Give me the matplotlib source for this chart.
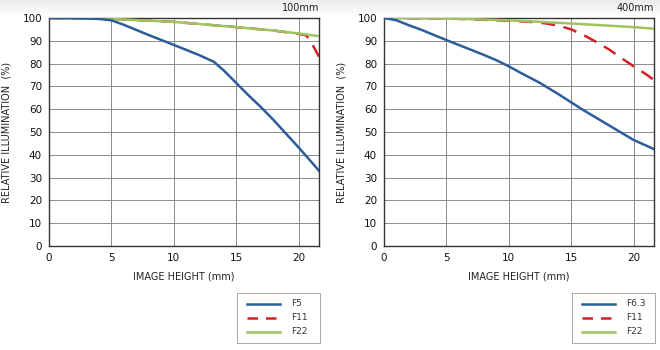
import matplotlib
matplotlib.use("Agg")
import matplotlib.pyplot as plt
import numpy as np

# Left panel (100mm)
l_x_f5 = [0, 2, 4, 5, 6, 8, 10, 12, 13.2, 14, 15, 16, 17, 18, 19, 20, 21, 21.63]
l_y_f5 = [100, 99.9, 99.6, 99.0, 97, 92.5, 88.2, 83.8, 80.8, 77.0, 71.5, 66.0, 60.8, 55.2, 49.2, 43.2, 37, 33]
l_x_f11 = [0, 5, 10, 15, 18, 20, 20.6, 21, 21.63]
l_y_f11 = [100, 99.6, 98.3, 96.0, 94.5, 93.0, 92.4, 89.5, 83]
l_x_f22 = [0, 5, 10, 15, 18, 20, 21.63]
l_y_f22 = [100, 99.6, 98.3, 96.0, 94.5, 93.2, 92.0]

# Right panel (400mm)
r_x_f63 = [0, 1, 2, 3, 5, 7, 8, 9, 10, 11, 12.5, 14, 15, 16, 18, 20, 21.63]
r_y_f63 = [100, 99, 96.8, 94.8, 90.3, 86, 83.8, 81.5, 78.8, 75.8, 71.5, 66.5, 63, 59.5, 53, 46.5, 42.5]
r_x_f11 = [0, 5, 10, 12, 13, 14, 15, 16, 17, 18, 19, 20, 21, 21.63]
r_y_f11 = [100, 99.8, 98.8, 98.2, 97.6, 96.6, 95.0, 92.5, 89.5, 86.3, 82.5, 78.8, 75.3, 72.8]
r_x_f22 = [0, 5, 10, 15, 20, 21.63]
r_y_f22 = [100, 99.8, 99.0, 97.6, 96.0, 95.3]

x_ticks = [0, 5, 10, 15, 20]
y_ticks = list(range(0, 101, 10))

BLUE = "#2b5d9b"
RED = "#d42027"
GREEN = "#9cc45f"

fig = plt.figure(figsize=(6.6, 3.5), dpi=100)
W, H = 660, 350

def px(x0, y0, x1, y1):
    return [x0 / W, 1 - y1 / H, (x1 - x0) / W, (y1 - y0) / H]

# top band
band = fig.add_axes([0, 1 - 16 / H, 1, 16 / H])
grad = np.linspace(1, 0, 50).reshape(-1, 1)
band.imshow(grad, aspect="auto", cmap=matplotlib.colors.LinearSegmentedColormap.from_list("g", ["#ffffff", "#ececec"]), extent=[0, 1, 0, 1])
band.axis("off")

DASH = (0, (5.5, 3.5))

panels = [
    (px(49, 18, 319, 246), "100mm", [(l_x_f5, l_y_f5, BLUE, "-", "F5"), (l_x_f11, l_y_f11, RED, DASH, "F11"), (l_x_f22, l_y_f22, GREEN, "-", "F22")], px(237, 293, 320, 343)),
    (px(384, 18, 654, 246), "400mm", [(r_x_f63, r_y_f63, BLUE, "-", "F6.3"), (r_x_f11, r_y_f11, RED, DASH, "F11"), (r_x_f22, r_y_f22, GREEN, "-", "F22")], px(572, 293, 655, 343)),
]

for rect, title, series, legrect in panels:
    ax = fig.add_axes(rect)
    for i in [1, 2, 0]:
        xs, ys, c, ls, lab = series[i]
        ax.plot(xs, ys, color=c, lw=1.8, ls=ls, zorder=3)
    ax.set_xlim(0, 21.63)
    ax.set_ylim(0, 100)
    ax.set_xticks(x_ticks)
    ax.set_yticks(y_ticks)
    ax.grid(True, color="#8a8a8a", lw=0.7)
    ax.tick_params(length=0, labelsize=7.5, pad=5, colors="#111111")
    for s in ax.spines.values():
        s.set_color("#333333")
        s.set_linewidth(1.0)
    ax.set_xlabel("IMAGE HEIGHT (mm)", fontsize=7, labelpad=6, color="#222222")
    ax.set_ylabel("RELATIVE ILLUMINATION  (%)", fontsize=7, labelpad=8, color="#222222")
    ax.text(1.0, 1.02, title, transform=ax.transAxes, ha="right", va="bottom", fontsize=7, color="#222222")

    lax = fig.add_axes(legrect)
    lax.set_xlim(0, 1)
    lax.set_ylim(0, 1)
    lax.set_xticks([])
    lax.set_yticks([])
    for s in lax.spines.values():
        s.set_color("#aaaaaa")
        s.set_linewidth(0.7)
    for k, (xs, ys, c, ls, lab) in enumerate(series):
        yy = 0.78 - k * 0.28
        lax.plot([0.12, 0.52], [yy, yy], color=c, lw=1.8, ls=ls if ls == "-" else (0, (4.2, 3.2)))
        lax.text(0.65, yy, lab, va="center", ha="left", fontsize=6.5, color="#333333")

fig.savefig("out.png", dpi=100)
